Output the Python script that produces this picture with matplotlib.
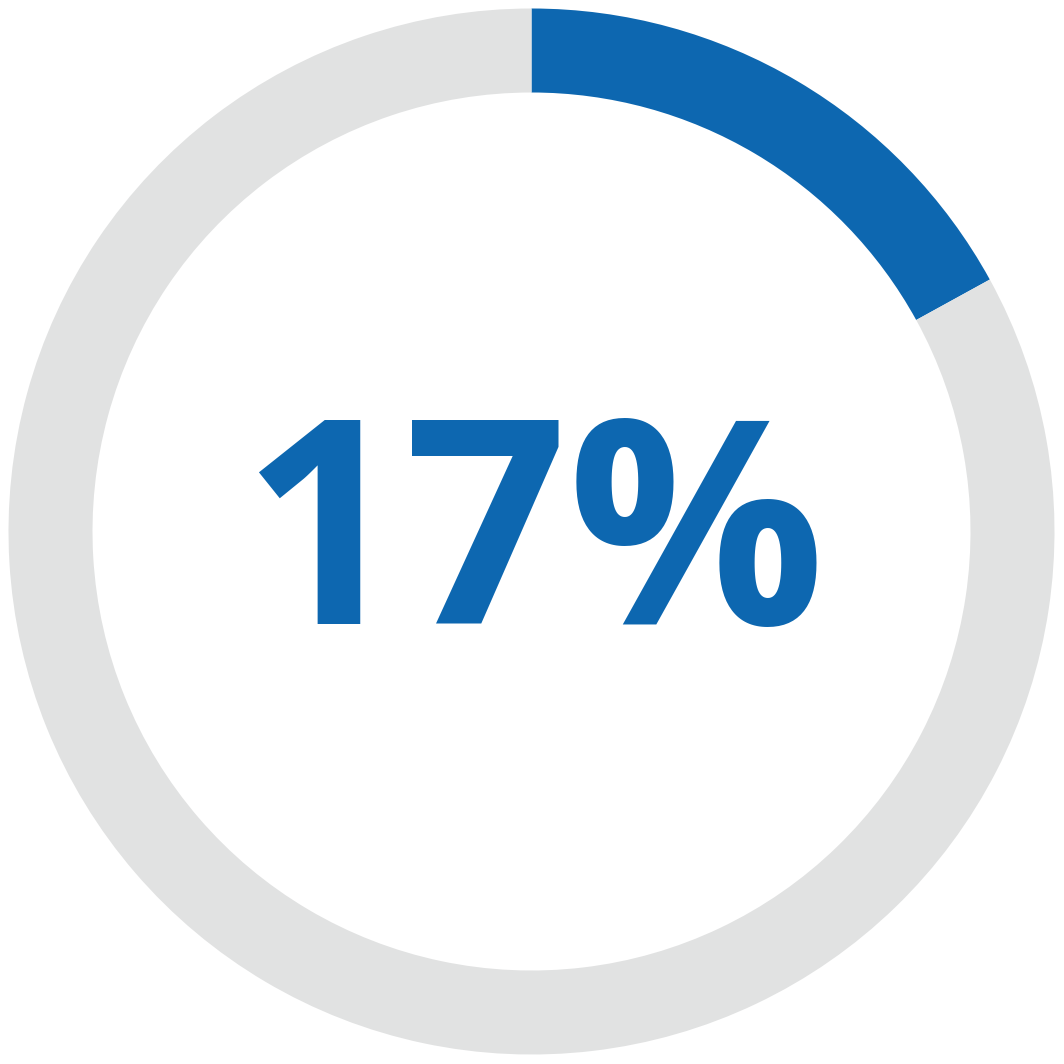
import matplotlib.pyplot as plt

# donut share
share = 17
labels = ["Share", "Rest"]
values = [share, 100 - share]
colors = ["#0D67B0", "#E1E2E2"]

fig = plt.figure(figsize=(10.64, 10.64), dpi=100)
ax = fig.add_axes([0, 0, 1, 1])
ax.set_xlim(0, 1064)
ax.set_ylim(0, 1064)
ax.set_aspect("equal")
ax.axis("off")

ax.pie(values, colors=colors, startangle=90, counterclock=False,
       center=(531.5, 532.5), radius=523,
       wedgeprops=dict(width=84, edgecolor="none"))
ax.set_xlim(0, 1064)
ax.set_ylim(0, 1064)

ax.text(533, 440, f"{share}%", ha="center", va="baseline", color=colors[0],
        fontsize=206, fontweight="bold", family="Open Sans")

fig.savefig("out.png", dpi=100, facecolor="white")
